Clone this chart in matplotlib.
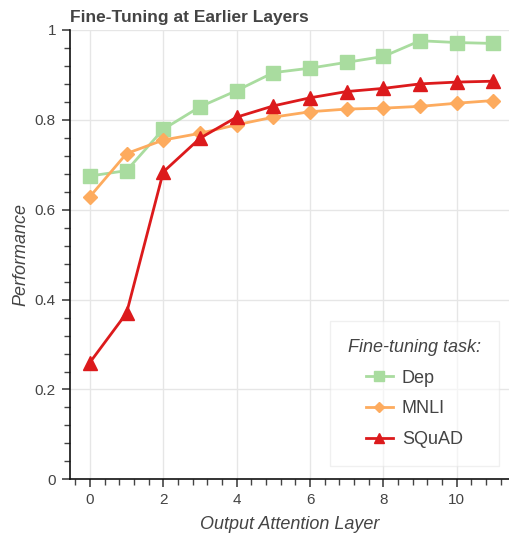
import matplotlib
matplotlib.use("Agg")
import matplotlib.pyplot as plt
from matplotlib.ticker import MultipleLocator, FuncFormatter

layers = list(range(12))
dep = [0.675, 0.687, 0.779, 0.829, 0.865, 0.905, 0.915, 0.928, 0.941, 0.976, 0.972, 0.970]
mnli = [0.629, 0.725, 0.755, 0.770, 0.789, 0.806, 0.818, 0.824, 0.826, 0.830, 0.837, 0.843]
squad = [0.260, 0.370, 0.684, 0.759, 0.806, 0.831, 0.849, 0.863, 0.870, 0.880, 0.884, 0.886]

GREEN, ORANGE, RED = "#a9dc9f", "#fdab5e", "#dc1a1c"
INK = "#444444"
GRID = "#e6e6e6"

plt.rcParams.update({
    "font.family": ["Liberation Sans", "DejaVu Sans"],
    "text.color": INK, "axes.labelcolor": INK,
    "xtick.color": INK, "ytick.color": INK,
})

fig = plt.figure(figsize=(5.1, 5.35), dpi=100)
ax = fig.add_axes([0.137, 0.104, 0.863, 0.840])

ax.plot(layers, dep, color=GREEN, lw=2, marker="s", ms=10, label="Dep", zorder=3)
ax.plot(layers, mnli, color=ORANGE, lw=2, marker="D", ms=7, label="MNLI", zorder=3)
ax.plot(layers, squad, color=RED, lw=2, marker="^", ms=10, label="SQuAD", zorder=4)

ax.set_xlim(-0.545, 11.45)
ax.set_ylim(0, 1)
ax.xaxis.set_major_locator(MultipleLocator(2))
ax.xaxis.set_minor_locator(MultipleLocator(0.4))
ax.yaxis.set_major_locator(MultipleLocator(0.2))
ax.yaxis.set_minor_locator(MultipleLocator(0.04))
ax.yaxis.set_major_formatter(FuncFormatter(lambda v, _: f"{v:g}"))
ax.tick_params(which="major", length=6, width=1.2, labelsize=11, pad=4)
ax.tick_params(which="minor", length=4, width=1)
ax.grid(which="major", color=GRID, lw=1, zorder=0)
for s in ("top", "right"):
    ax.spines[s].set_visible(False)
for s in ("left", "bottom"):
    ax.spines[s].set_linewidth(1.2)
    ax.spines[s].set_color("#111111")

ax.set_xlabel("Output Attention Layer", fontsize=13, style="italic", labelpad=6)
ax.set_ylabel("Performance", fontsize=13, style="italic", labelpad=4)
ax.set_title("Fine-Tuning at Earlier Layers", fontsize=12.5, fontweight="bold",
             loc="left", pad=6, color=INK)

leg = ax.legend(title="Fine-tuning task:", loc="lower right",
                bbox_to_anchor=(0.975, 0.030), borderaxespad=0,
                fontsize=13, title_fontsize=13,
                frameon=True, fancybox=False, framealpha=0.6,
                edgecolor="#e6e6e6", handlelength=1.5, handletextpad=0.5,
                labelspacing=0.75, borderpad=1.0, markerscale=0.7)
leg.get_title().set_fontstyle("italic")
leg.get_title().set_color(INK)
for t in leg.get_texts():
    t.set_color(INK)

fig.savefig("out.png", dpi=100)
